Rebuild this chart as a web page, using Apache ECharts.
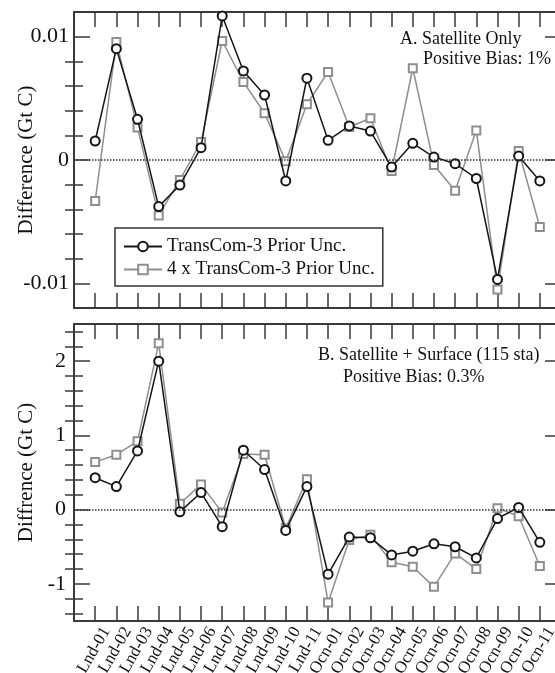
<!DOCTYPE html>
<html><head><meta charset="utf-8">
<script src="https://cdn.jsdelivr.net/npm/echarts@6/dist/echarts.min.js"></script>
<style>html,body{margin:0;padding:0;background:#fff}#c{width:555px;height:673px}</style>
</head><body><div id="c"></div>
<script>
const categories = ['Lnd-01','Lnd-02','Lnd-03','Lnd-04','Lnd-05','Lnd-06','Lnd-07','Lnd-08','Lnd-09','Lnd-10','Lnd-11',
  'Ocn-01','Ocn-02','Ocn-03','Ocn-04','Ocn-05','Ocn-06','Ocn-07','Ocn-08','Ocn-09','Ocn-10','Ocn-11'];
const seriesNames = ['TransCom-3 Prior Unc.', '4 x TransCom-3 Prior Unc.'];

// Panel A: Satellite only
const panelA_prior = [0.00154, 0.00903, 0.0033, -0.00378, -0.00203, 0.001, 0.01168, 0.00722, 0.00527, -0.0017, 0.00663,
  0.0016, 0.00276, 0.00235, -0.00057, 0.00135, 0.00024, -0.0003, -0.0015, -0.00968, 0.00032, -0.0017];
const panelA_4x = [-0.00333, 0.00957, 0.00263, -0.00449, -0.00162, 0.00146, 0.00965, 0.00633, 0.00379, -0.0001, 0.00452,
  0.00714, 0.00268, 0.00338, -0.00089, 0.00744, -0.0004, -0.0025, 0.0024, -0.01049, 0.00073, -0.00543];
// Panel B: Satellite + Surface
const panelB_prior = [0.43, 0.31, 0.79, 2.0, -0.03, 0.23, -0.23, 0.8, 0.54, -0.28, 0.31,
  -0.87, -0.37, -0.38, -0.61, -0.56, -0.46, -0.5, -0.65, -0.12, 0.03, -0.44];
const panelB_4x = [0.64, 0.74, 0.92, 2.24, 0.08, 0.34, -0.04, 0.75, 0.74, -0.25, 0.41,
  -1.25, -0.41, -0.34, -0.71, -0.77, -1.04, -0.59, -0.8, 0.02, -0.09, -0.76];

const topRange = [-0.012, 0.012];
const topMajor = [-0.01, 0, 0.01];
const topMinor = [-0.008, -0.006, -0.004, -0.002, 0.002, 0.004, 0.006, 0.008];
const topLabels = ['-0.01', '0', '0.01'];
const botRange = [-1.5, 2.5];
const botMajor = [-1, 0, 1, 2];
const botMinor = [-1.4, -1.2, -0.8, -0.6, -0.4, -0.2, 0.2, 0.4, 0.6, 0.8, 1.2, 1.4, 1.6, 1.8, 2.2, 2.4];
const botLabels = ['-1', '0', '1', '2'];

const FONT = 'Liberation Serif';
const AX = '#3a3a3a';
const BLACK = '#151515';
const GREY = '#8e8e8e';

function xAxes(gi, showLabels) {
  const base = {type:'value', gridIndex:gi, min:0, max:categories.length+1, interval:1,
    splitLine:{show:false},
    axisLine:{show:true, onZero:false, lineStyle:{color:AX, width:2}},
    axisTick:{show:true, inside:true, length:15, lineStyle:{color:AX, width:1.5}}};
  return [
    Object.assign({}, base, {position:'bottom', axisLabel: showLabels ? {
      show:true, rotate:60, margin:1, fontFamily:FONT, fontSize:17, color:'#111',
      verticalAlign:'top', lineHeight:26,
      formatter: v => categories[v-1] || ''} : {show:false}}),
    Object.assign({}, base, {position:'top', axisLabel:{show:false}})
  ];
}
function yAxes(gi, range, major, minor, labels, name, margin) {
  const common = {type:'value', gridIndex:gi, min:range[0], max:range[1], splitLine:{show:false}};
  const tickStyle = {color:AX, width:1.5};
  return [
    Object.assign({}, common, {position:'left', name:name, nameLocation:'middle', nameGap:37, nameRotate:90,
      nameMoveOverlap:false,
      nameTextStyle:{fontFamily:FONT, fontSize:21, color:'#111'},
      axisLine:{show:true, onZero:false, lineStyle:{color:AX, width:2}},
      axisTick:{show:true, inside:true, length:16, customValues:major, lineStyle:tickStyle},
      axisLabel:{show:true, customValues:major, margin:margin, fontFamily:FONT, fontSize:22, color:'#111',
        formatter: v => labels[major.findIndex(m => Math.abs(m - v) < 1e-9)]}}),
    Object.assign({}, common, {position:'left', axisLine:{show:false},
      axisTick:{show:true, inside:true, length:9, customValues:minor, lineStyle:tickStyle}, axisLabel:{show:false}}),
    Object.assign({}, common, {position:'right', axisLine:{show:true, onZero:false, lineStyle:{color:AX, width:2}},
      axisTick:{show:true, inside:true, length:16, customValues:major, lineStyle:tickStyle}, axisLabel:{show:false}}),
    Object.assign({}, common, {position:'right', axisLine:{show:false},
      axisTick:{show:true, inside:true, length:9, customValues:minor, lineStyle:tickStyle}, axisLabel:{show:false}})
  ];
}
function toPts(arr) { return arr.map((v, i) => [i + 1, v]); }
const zeroLine = {symbol:'none', silent:true, label:{show:false},
  lineStyle:{type:'dotted', color:'#333', width:1.5}, data:[{yAxis:0}]};
function makeSeries(xi, yi, prior, x4) {
  return [
    {name:seriesNames[1], type:'line', xAxisIndex:xi, yAxisIndex:yi, data:toPts(x4),
      symbol:'emptyRect', symbolSize:8, lineStyle:{color:GREY, width:1.5},
      itemStyle:{color:GREY, borderColor:GREY, borderWidth:1.5}, z:2},
    {name:seriesNames[0], type:'line', xAxisIndex:xi, yAxisIndex:yi, data:toPts(prior),
      symbol:'emptyCircle', symbolSize:9, lineStyle:{color:BLACK, width:1.5},
      itemStyle:{color:BLACK, borderColor:BLACK, borderWidth:1.5}, z:3, markLine:zeroLine}
  ];
}

const chart = echarts.init(document.getElementById('c'), null, {renderer:'canvas'});
chart.setOption({
  animation:false,
  backgroundColor:'#fff',
  textStyle:{fontFamily:FONT},
  grid:[{left:74, top:12, width:487, height:296, outerBoundsMode:'none', containLabel:false},
        {left:74, top:324, width:487, height:297, outerBoundsMode:'none', containLabel:false}],
  xAxis:[].concat(xAxes(0, false), xAxes(1, true)),
  yAxis:[].concat(
    yAxes(0, topRange, topMajor, topMinor, topLabels, 'Difference (Gt C)', 5),
    yAxes(1, botRange, botMajor, botMinor, botLabels, 'Diffrence (Gt C)', 8)),
  legend:{data:seriesNames, left:115, top:228, orient:'vertical', itemWidth:38, itemHeight:12, itemGap:4,
    borderColor:'#333', borderWidth:1.5, padding:[9, 8, 7, 8], backgroundColor:'#fff',
    textStyle:{fontFamily:FONT, fontSize:19, color:'#111'}},
  graphic:[
    {type:'text', left:400, top:30, style:{text:'A. Satellite Only', font:'18px "Liberation Serif"', fill:'#111'}},
    {type:'text', left:423, top:50, style:{text:'Positive Bias: 1%', font:'18px "Liberation Serif"', fill:'#111'}},
    {type:'text', left:318, top:346, style:{text:'B. Satellite + Surface (115 sta)', font:'18px "Liberation Serif"', fill:'#111'}},
    {type:'text', left:343, top:368, style:{text:'Positive Bias: 0.3%', font:'18px "Liberation Serif"', fill:'#111'}}
  ],
  series:[].concat(makeSeries(0, 0, panelA_prior, panelA_4x), makeSeries(2, 4, panelB_prior, panelB_4x))
});
</script></body></html>
